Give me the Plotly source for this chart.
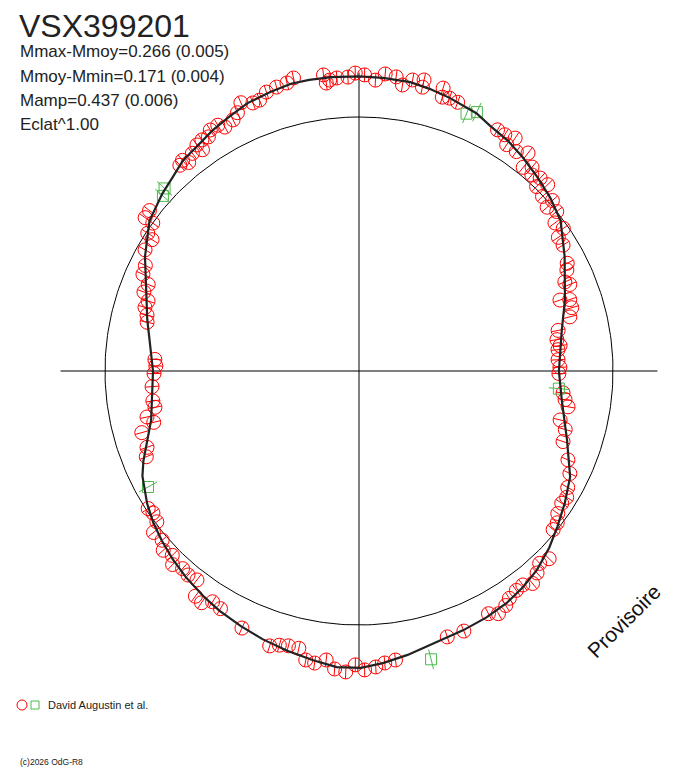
import numpy as np
import plotly.graph_objects as go

# Courbe polaire : phase (0 = en haut, sens horaire) et éclat relatif (cercle = 1)
obs_phase = [0.998, 0.003, 0.009, 0.014, 0.020, 0.024, 0.029, 0.035, 0.035, 0.046,
             0.047, 0.051, 0.056, 0.083, 0.088, 0.094, 0.092, 0.099, 0.105, 0.108,
             0.112, 0.115, 0.120, 0.122, 0.126, 0.129, 0.135, 0.136, 0.142, 0.147,
             0.153, 0.156, 0.162, 0.174, 0.178, 0.185, 0.188, 0.196, 0.198, 0.204,
             0.210, 0.218, 0.225, 0.230, 0.233, 0.241, 0.247, 0.252, 0.267, 0.272,
             0.277, 0.288, 0.294, 0.303, 0.314, 0.322, 0.331, 0.337, 0.342, 0.349,
             0.354, 0.359, 0.374, 0.380, 0.385, 0.391, 0.396, 0.401, 0.407, 0.411,
             0.417, 0.422, 0.439, 0.449, 0.480, 0.486, 0.491, 0.497, 0.502, 0.507,
             0.513, 0.518, 0.524, 0.529, 0.534, 0.540, 0.545, 0.550, 0.568, 0.584,
             0.590, 0.595, 0.600, 0.605, 0.611, 0.616, 0.622, 0.626, 0.632, 0.637,
             0.644, 0.648, 0.654, 0.658, 0.689, 0.695, 0.706, 0.711, 0.716, 0.722,
             0.727, 0.738, 0.748, 0.754, 0.759, 0.786, 0.791, 0.796, 0.801, 0.806,
             0.812, 0.817, 0.823, 0.832, 0.840, 0.842, 0.849, 0.849, 0.854, 0.891,
             0.886, 0.889, 0.896, 0.902, 0.901, 0.905, 0.909, 0.912, 0.917, 0.920,
             0.926, 0.930, 0.934, 0.940, 0.944, 0.949, 0.955, 0.961, 0.965, 0.981,
             0.982, 0.984, 0.988, 0.994]
obs_flux = [1.173, 1.166, 1.147, 1.174, 1.167, 1.139, 1.165, 1.174, 1.145, 1.162,
            1.127, 1.132, 1.127, 1.095, 1.093, 1.104, 1.064, 1.063, 1.086, 1.030,
            1.053, 1.029, 1.042, 1.008, 1.044, 0.997, 1.015, 0.982, 1.000, 0.967,
            0.981, 0.945, 0.944, 0.923, 0.910, 0.883, 0.897, 0.839, 0.876, 0.874,
            0.857, 0.800, 0.789, 0.798, 0.788, 0.785, 0.791, 0.787, 0.808, 0.819,
            0.835, 0.815, 0.844, 0.850, 0.894, 0.923, 0.941, 0.957, 0.953, 0.963,
            0.983, 0.987, 1.052, 1.039, 1.060, 1.080, 1.061, 1.063, 1.073, 1.089,
            1.102, 1.083, 1.104, 1.103, 1.147, 1.154, 1.167, 1.177, 1.157, 1.186,
            1.177, 1.145, 1.163, 1.157, 1.117, 1.117, 1.124, 1.138, 1.112, 1.083,
            1.076, 1.103, 1.096, 1.041, 1.048, 1.043, 1.058, 1.033, 1.045, 1.022,
            1.029, 0.993, 0.985, 0.991, 0.903, 0.887, 0.889, 0.833, 0.854, 0.816,
            0.820, 0.817, 0.807, 0.800, 0.805, 0.856, 0.863, 0.879, 0.875, 0.902,
            0.897, 0.932, 0.938, 0.968, 0.965, 0.993, 0.999, 1.036, 1.039, 1.060,
            1.074, 1.082, 1.079, 1.067, 1.095, 1.100, 1.096, 1.115, 1.116, 1.096,
            1.106, 1.124, 1.154, 1.135, 1.136, 1.157, 1.164, 1.169, 1.182, 1.174,
            1.141, 1.151, 1.157, 1.158]

# Autres points (carrés verts)
sq_phase = [0.063, 0.068, 0.870, 0.866, 0.670, 0.264, 0.461]
sq_flux = [1.098, 1.120, 1.050, 1.035, 0.948, 0.790, 1.170]

# Courbe ajustée
fit_phase = [0.000, 0.013, 0.028, 0.039, 0.051, 0.068, 0.078, 0.091, 0.104, 0.118,
             0.133, 0.148, 0.169, 0.197, 0.218, 0.250, 0.273, 0.301, 0.324, 0.341,
             0.356, 0.369, 0.384, 0.397, 0.410, 0.424, 0.439, 0.458, 0.473, 0.487,
             0.499, 0.512, 0.525, 0.540, 0.555, 0.569, 0.584, 0.596, 0.611, 0.624,
             0.637, 0.649, 0.661, 0.678, 0.687, 0.713, 0.750, 0.788, 0.828, 0.849,
             0.867, 0.878, 0.889, 0.900, 0.913, 0.925, 0.937, 0.951, 0.963, 0.973,
             0.985, 1.000]
fit_flux = [1.160, 1.158, 1.155, 1.145, 1.133, 1.115, 1.095, 1.080, 1.060, 1.038,
            1.016, 0.990, 0.927, 0.858, 0.815, 0.787, 0.807, 0.863, 0.930, 0.963,
            0.993, 1.022, 1.051, 1.068, 1.083, 1.092, 1.100, 1.112, 1.134, 1.154,
            1.169, 1.169, 1.153, 1.137, 1.122, 1.107, 1.092, 1.078, 1.060, 1.043,
            1.024, 1.006, 0.984, 0.948, 0.920, 0.841, 0.811, 0.858, 0.955, 1.015,
            1.043, 1.058, 1.080, 1.090, 1.109, 1.124, 1.142, 1.153, 1.162, 1.163,
            1.162, 1.160]

err_obs = 0.027  # barre d'erreur radiale
err_sq = 0.04

OFF = 8  # marge du body de la page html
W, H = 688 - OFF, 768 - OFF
R_PX = 254.0   # pixels par unité
CX, CY = 359.0 - OFF, 371.0 - OFF  # centre en pixels (dans la figure)
AXIS_LEN = 1.175


def to_xy(phase, flux):
    a = 2 * np.pi * np.asarray(phase)
    f = np.asarray(flux)
    return f * np.sin(a), f * np.cos(a)


def err_segments(phase, flux, err):
    xs, ys = [], []
    for p, f in zip(phase, flux):
        x, y = to_xy([p, p], [f - err, f + err])
        xs += [x[0], x[1], None]
        ys += [y[0], y[1], None]
    return xs, ys


fig = go.Figure()

# Cercle de référence
t = np.linspace(0, 1, 361)
cx, cy = to_xy(t, np.ones_like(t))
fig.add_trace(go.Scatter(x=cx, y=cy, mode='lines', line=dict(color='black', width=1), hoverinfo='skip'))

# Axes
fig.add_trace(go.Scatter(x=[-AXIS_LEN, AXIS_LEN], y=[0, 0], mode='lines',
                         line=dict(color='black', width=1), hoverinfo='skip'))
fig.add_trace(go.Scatter(x=[0, 0], y=[-AXIS_LEN, AXIS_LEN], mode='lines',
                         line=dict(color='black', width=1), hoverinfo='skip'))

# Points observés
ex, ey = err_segments(obs_phase, obs_flux, err_obs)
fig.add_trace(go.Scatter(x=ex, y=ey, mode='lines', line=dict(color='red', width=1), hoverinfo='skip'))
ox, oy = to_xy(obs_phase, obs_flux)
fig.add_trace(go.Scatter(x=ox, y=oy, mode='markers',
                         marker=dict(symbol='circle-open', size=14, color='red', line=dict(width=1))))

gx_e, gy_e = err_segments(sq_phase, sq_flux, err_sq)
fig.add_trace(go.Scatter(x=gx_e, y=gy_e, mode='lines', line=dict(color='#4cb84c', width=1), hoverinfo='skip'))
gx, gy = to_xy(sq_phase, sq_flux)
fig.add_trace(go.Scatter(x=gx, y=gy, mode='markers',
                         marker=dict(symbol='square-open', size=11, color='#4cb84c', line=dict(width=1))))

# Courbe ajustée
fx, fy = to_xy(fit_phase, fit_flux)
fig.add_trace(go.Scatter(x=fx, y=fy, mode='lines', line=dict(color='#222222', width=2.2), hoverinfo='skip'))


def px(x):
    return (x - OFF) / W


def py(y):
    return 1 - (y - OFF) / H


texts = [
    ("VSX399201", 18, 26, 32),
    ("Mmax-Mmoy=0.266 (0.005)", 19, 51, 17),
    ("Mmoy-Mmin=0.171 (0.004)", 19, 76, 17),
    ("Mamp=0.437 (0.006)", 19, 100, 17),
    ("Eclat^1.00", 19, 125, 17),
    ("David Augustin et al.", 47, 705, 11),
    ("(c)2026 OdG-R8", 19, 762, 8.5),
]
annotations = []
for txt, x, y, s in texts:
    annotations.append(dict(text=txt, x=px(x), y=py(y), xref='paper', yref='paper',
                            xanchor='left', yanchor='middle', showarrow=False, borderpad=0,
                            font=dict(family='Arial, Liberation Sans', size=s, color='#222222')))
annotations.append(dict(text="Provisoire", x=px(623), y=py(621), xref='paper', yref='paper',
                        xanchor='center', yanchor='middle', textangle=-45, showarrow=False,
                        font=dict(family='Arial, Liberation Sans', size=21, color='#111111')))

shapes = [
    dict(type='circle', xref='paper', yref='paper', x0=px(17), x1=px(27), y0=py(700), y1=py(710),
         line=dict(color='red', width=1)),
    dict(type='rect', xref='paper', yref='paper', x0=px(31), x1=px(39), y0=py(701), y1=py(709),
         line=dict(color='#4cb84c', width=1)),
]

fig.update_layout(
    width=W, height=H,
    margin=dict(l=0, r=0, t=0, b=0),
    paper_bgcolor='white', plot_bgcolor='white',
    showlegend=False,
    xaxis=dict(range=[-CX / R_PX, (W - CX) / R_PX], visible=False, fixedrange=True),
    yaxis=dict(range=[(CY - H) / R_PX, CY / R_PX], visible=False, fixedrange=True),
    annotations=annotations,
    shapes=shapes,
)

fig.write_html("out.html")
